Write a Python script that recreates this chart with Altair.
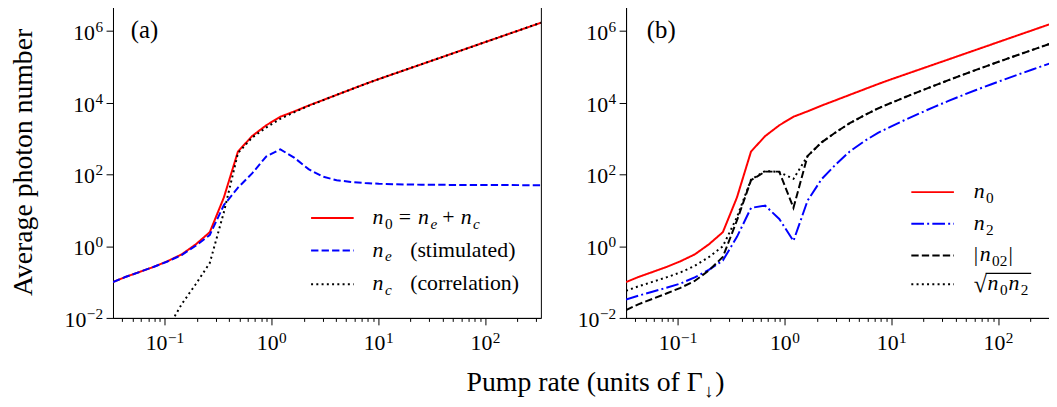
import altair as alt
import pandas as pd

# ---------------- data ----------------
pump = [0.0328, 0.0427, 0.0578, 0.0783, 0.106, 0.144, 0.195, 0.264, 0.358, 0.485,
        0.658, 0.891, 1.21, 1.64, 2.22, 3.01, 4.07, 5.52, 7.48, 10.1,
        13.7, 18.6, 25.2, 34.2, 46.3, 62.8, 85.1, 115, 156, 212, 287, 332]

n0 = [0.100, 0.138, 0.190, 0.263, 0.380, 0.589, 1.12, 2.45, 22.9, 437,
      1175, 2344, 4074, 5750, 8318, 11749, 16596, 23442, 33113, 45709,
      62661, 85901, 117761, 161065, 220800, 302691, 414954, 567545, 778036, 1066596, 1462177, 1698244]

n_e = [0.100, 0.138, 0.190, 0.263, 0.375, 0.565, 1.03, 2.05, 14, 43,
       107, 316, 500, 290, 141, 87, 69, 62, 57.5, 55,
       53.7, 52.5, 51.9, 51.5, 51.2, 51, 50.8, 50.6, 50.5, 50.4, 50.3, 50.3]

n_c = [0.00005, 0.0001, 0.0004, 0.0013, 0.005, 0.024, 0.087, 0.34, 8.9, 394,
       1068, 2028, 3574, 5460, 8177, 11662, 16527, 23380, 33055, 45654,
       62607, 85848, 117709, 161013, 220749, 302640, 414903, 567494, 777986, 1066546, 1462127, 1698194]

n2 = [0.0324, 0.0417, 0.0537, 0.0692, 0.0912, 0.135, 0.219, 0.398, 1.82, 11.7,
      13.5, 5.75, 1.40, 18.6, 74, 190, 437, 832, 1445, 2239,
      3428, 5164, 7674, 11220, 16144, 22961, 32285, 44978, 62230, 85704, 117490, 136458]

n02_abs = [0.0166, 0.0240, 0.0339, 0.0479, 0.0692, 0.107, 0.209, 0.501, 5.21, 69.2,
           120, 120, 11.7, 327, 785, 1496, 2692, 4416, 6918, 10116,
           14655, 21060, 30061, 42521, 59704, 83368, 115744, 159772, 220042, 302299, 414571, 481393]

sqrt_n0n2 = [0.0569, 0.0759, 0.101, 0.135, 0.186, 0.282, 0.495, 0.989, 6.46, 71.6,
             126, 116, 75.5, 327, 785, 1496, 2692, 4416, 6918, 10116,
             14655, 21060, 30061, 42521, 59704, 83368, 115744, 159772, 220042, 302299, 414571, 481393]

x_ticks = [0.1, 1, 10, 100]
x_tick_exp = ["−1", "0", "1", "2"]
x_minor = [0.04, 0.05, 0.06, 0.07, 0.08, 0.09,
           0.2, 0.3, 0.4, 0.5, 0.6, 0.7, 0.8, 0.9,
           2, 3, 4, 5, 6, 7, 8, 9,
           20, 30, 40, 50, 60, 70, 80, 90,
           200, 300]
y_ticks = [0.01, 1, 100, 1e4, 1e6]
y_tick_exp = ["−2", "0", "2", "4", "6"]

# ---------------- styling ----------------
FONT = "Liberation Serif"
W, H = 432, 315
XDOM = [0.0328, 332]
YDOM = [0.01, 5e6]
LW = 2
DASH = [7.4, 3.2]
DOT = [2, 3.3]
DASHDOT = [12.8, 3.2, 2, 3.2]
FS = 22        # tick / legend font size
SUB = 15.4     # sub/superscript size
NW = 12.5      # width of italic n
SD = 5         # subscript drop

xscale = alt.Scale(type="log", domain=XDOM, nice=False)
yscale = alt.Scale(type="log", domain=YDOM, nice=False)

x_major_axis = alt.Axis(values=x_ticks, labels=False, title=None, grid=False, orient="bottom",
                        tickSize=7, tickColor="black", domainColor="black")
x_minor_axis = alt.Axis(values=x_minor, labels=False, title=None, grid=False, orient="bottom",
                        tickSize=3.5, domain=False, tickColor="black")


def y_axis(title):
    kw = dict(values=y_ticks, labels=False, grid=False, orient="left", tickSize=7,
              tickColor="black", domainColor="black", minExtent=55, maxExtent=55)
    if title:
        kw.update(title=title, titleFont=FONT, titleFontSize=28, titleFontWeight="normal",
                  titleColor="black", titlePadding=21)
    else:
        kw.update(title=None)
    return alt.Axis(**kw)


dummy = pd.DataFrame({"k": [0]})
xlab = pd.DataFrame({"v": x_ticks, "e": x_tick_exp})
xlab["n"] = xlab["e"].str.len()
ylab = pd.DataFrame({"v": y_ticks, "e": y_tick_exp})
ylab["n"] = ylab["e"].str.len()


def line(df, col, color, dash, xaxis=None, yaxis=None):
    return alt.Chart(df).mark_line(color=color, strokeWidth=LW, strokeDash=dash, clip=True).encode(
        x=alt.X("x:Q", scale=xscale, axis=xaxis),
        y=alt.Y(f"{col}:Q", scale=yscale, axis=yaxis),
    )


def minor_layer(df, col):
    return alt.Chart(df).mark_line(opacity=0).encode(
        x=alt.X("x:Q", scale=xscale, axis=x_minor_axis),
        y=alt.Y(f"{col}:Q", scale=yscale, axis=None),
    )


def tick_labels():
    out = []
    for n in (1, 2):
        wexp = 7.7 if n == 1 else 16.4
        half = (22 + wexp) / 2
        sx = alt.Chart(xlab).transform_filter(f"datum.n == {n}")
        out.append(sx.mark_text(font=FONT, fontSize=FS, color="black", align="right",
                                baseline="alphabetic", dx=22 - half).encode(
            x=alt.X("v:Q", scale=xscale, axis=None), y=alt.value(H + 32), text=alt.value("10")))
        out.append(sx.mark_text(font=FONT, fontSize=SUB, color="black", align="left",
                                baseline="alphabetic", dx=22 - half + 0.5).encode(
            x=alt.X("v:Q", scale=xscale, axis=None), y=alt.value(H + 25), text="e:N"))
        sy = alt.Chart(ylab).transform_filter(f"datum.n == {n}")
        out.append(sy.mark_text(font=FONT, fontSize=FS, color="black", align="right",
                                baseline="alphabetic", dy=9, dx=-wexp - 0.5).encode(
            y=alt.Y("v:Q", scale=yscale, axis=None), x=alt.value(-10), text=alt.value("10")))
        out.append(sy.mark_text(font=FONT, fontSize=SUB, color="black", align="right",
                                baseline="alphabetic", dy=1).encode(
            y=alt.Y("v:Q", scale=yscale, axis=None), x=alt.value(-10), text="e:N"))
    return out


def txt(s, x, y, size=FS, italic=False, align="left"):
    return alt.Chart(dummy).mark_text(text=s, font=FONT, fontSize=size, color="black",
                                      fontStyle="italic" if italic else "normal",
                                      align=align, baseline="alphabetic").encode(
        x=alt.value(x), y=alt.value(y))


def sample(x1, x2, y, color, dash):
    return alt.Chart(dummy).mark_rule(color=color, strokeWidth=LW, strokeDash=dash).encode(
        x=alt.value(x1), x2=alt.value(x2), y=alt.value(y))


# ---------------- panel (a) ----------------
dfa = pd.DataFrame({"x": pump, "n0": n0, "ne": n_e, "nc": n_c})
ax0, sx1, sx2 = 262, 200, 243
ra = [214, 247, 281]
layers_a = [
    line(dfa, "n0", "#ff0000", [1, 0], x_major_axis, y_axis("Average photon number")),
    line(dfa, "ne", "#0000ff", DASH),
    line(dfa, "nc", "black", DOT),
    minor_layer(dfa, "n0"),
    txt("(a)", 18, 32, 25),
    sample(sx1, sx2, ra[0], "#ff0000", [1, 0]),
    sample(sx1, sx2, ra[1], "#0000ff", DASH),
    sample(sx1, sx2, ra[2], "black", DOT),
] + tick_labels()
b = ra[0] + 6
layers_a += [
    txt("n", ax0, b, italic=True), txt("0", ax0 + NW, b + SD, SUB),
    txt("=", ax0 + 26.5, b),
    txt("n", ax0 + 46, b, italic=True), txt("e", ax0 + 46 + NW, b + SD, SUB, italic=True),
    txt("+", ax0 + 70.5, b),
    txt("n", ax0 + 89, b, italic=True), txt("c", ax0 + 89 + NW, b + SD, SUB, italic=True),
]
b = ra[1] + 6
layers_a += [
    txt("n", ax0, b, italic=True), txt("e", ax0 + NW, b + SD, SUB, italic=True),
    txt("(stimulated)", ax0 + 38, b),
]
b = ra[2] + 6
layers_a += [
    txt("n", ax0, b, italic=True), txt("c", ax0 + NW, b + SD, SUB, italic=True),
    txt("(correlation)", ax0 + 38, b),
]
# shared x-axis title (placed under the gap between the panels)
layers_a += [
    txt("Pump rate (units of Γ", 357, 389, 28),
    txt("↓", 357 + 240, 395, 19),
    txt(")", 357 + 251, 389, 28),
]
panel_a = alt.layer(*layers_a).properties(width=W, height=H).resolve_axis(x="independent", y="independent")

# ---------------- panel (b) ----------------
dfb = pd.DataFrame({"x": pump, "n0": n0, "n2": n2, "n02": n02_abs, "sq": sqrt_n0n2})
bx0, bs1, bs2 = 351, 288, 331
rb = [188, 220, 252, 281]
layers_b = [
    line(dfb, "n0", "#ff0000", [1, 0], x_major_axis, y_axis(None)),
    line(dfb, "n2", "#0000ff", DASHDOT),
    line(dfb, "n02", "black", DASH),
    line(dfb, "sq", "black", DOT),
    minor_layer(dfb, "n0"),
    txt("(b)", 21, 32, 25),
    sample(bs1, bs2, rb[0], "#ff0000", [1, 0]),
    sample(bs1, bs2, rb[1], "#0000ff", DASHDOT),
    sample(bs1, bs2, rb[2], "black", DASH),
    sample(bs1, bs2, rb[3], "black", DOT),
] + tick_labels()
b = rb[0] + 6
layers_b += [txt("n", bx0, b, italic=True), txt("0", bx0 + NW, b + SD, SUB)]
b = rb[1] + 6
layers_b += [txt("n", bx0, b, italic=True), txt("2", bx0 + NW, b + SD, SUB)]
b = rb[2] + 6
layers_b += [txt("|", bx0, b), txt("n", bx0 + 6, b, italic=True),
             txt("02", bx0 + 6 + NW, b + SD, SUB), txt("|", bx0 + 35, b)]
b = rb[3] + 6
layers_b += [txt("√", bx0, b + 2, 24), txt("n", bx0 + 14, b, italic=True),
             txt("0", bx0 + 14 + NW, b + SD, SUB), txt("n", bx0 + 35, b, italic=True),
             txt("2", bx0 + 35 + NW, b + SD, SUB),
             alt.Chart(dummy).mark_rule(color="black", strokeWidth=1.2).encode(
                 x=alt.value(bx0 + 12), x2=alt.value(bx0 + 58), y=alt.value(b - 17))]
panel_b = alt.layer(*layers_b).properties(width=W, height=H).resolve_axis(x="independent", y="independent")

chart = alt.hconcat(panel_a, panel_b, spacing=86, bounds="flush").properties(
    padding={"left": 1, "top": -5, "right": -6, "bottom": 0}
).configure_view(stroke="black", strokeWidth=1)

chart.save("out.html", embed_options={"renderer": "svg", "actions": False})
